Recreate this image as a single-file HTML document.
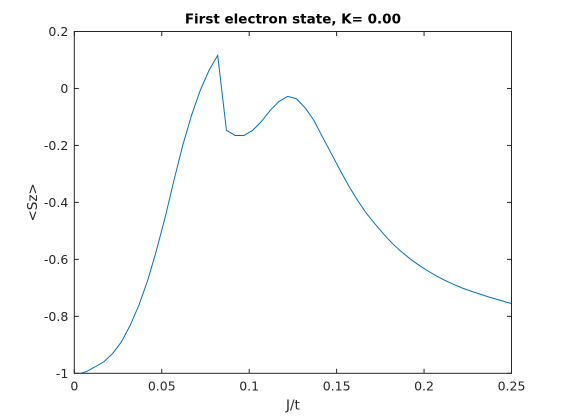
<!DOCTYPE html>
<html><head><meta charset="utf-8"><style>
body{margin:0;background:#fff;}
svg{display:block;font-family:"DejaVu Sans","Liberation Sans",sans-serif;}
</style></head><body>
<svg id="chart" width="566" height="420" viewBox="0 0 566 420">
<rect x="0" y="0" width="566" height="420" fill="#ffffff"/>
<g id="plot"></g>
</svg>
<script>
const xVals=[0.002,0.007,0.012,0.017,0.022,0.027,0.032,0.037,0.042,0.047,0.052,0.057,0.062,0.067,0.072,0.077,0.082,0.087,0.092,0.097,0.102,0.107,0.112,0.117,0.122,0.127,0.132,0.137,0.142,0.147,0.152,0.157,0.162,0.167,0.172,0.177,0.182,0.187,0.192,0.197,0.202,0.207,0.212,0.217,0.222,0.227,0.232,0.237,0.242,0.247,0.25];
const szVals=[-1.003,-0.994,-0.977,-0.959,-0.93,-0.889,-0.831,-0.76,-0.673,-0.568,-0.451,-0.322,-0.2,-0.095,-0.007,0.063,0.116,-0.147,-0.165,-0.165,-0.147,-0.116,-0.077,-0.046,-0.028,-0.036,-0.068,-0.112,-0.171,-0.229,-0.287,-0.343,-0.393,-0.438,-0.476,-0.512,-0.545,-0.573,-0.598,-0.620,-0.640,-0.658,-0.674,-0.688,-0.701,-0.712,-0.722,-0.732,-0.741,-0.750,-0.755];
const xTicks=[0,0.05,0.1,0.15,0.2,0.25];
const xTickLabels=["0","0.05","0.1","0.15","0.2","0.25"];
const yTicks=[0.2,0,-0.2,-0.4,-0.6,-0.8,-1];
const yTickLabels=["0.2","0","-0.2","-0.4","-0.6","-0.8","-1"];

const L=74.3,R=511.5,T=31.5,B=373.3;
const xMin=0,xMax=0.25,yMin=-1,yMax=0.2;
function sx(v){return L+(v-xMin)/(xMax-xMin)*(R-L);}
function sy(v){return B-(v-yMin)/(yMax-yMin)*(B-T);}
const NS="http://www.w3.org/2000/svg";
const g=document.getElementById('plot');
function mk(tag,attrs,parent){const e=document.createElementNS(NS,tag);for(const k in attrs)e.setAttribute(k,attrs[k]);(parent||g).appendChild(e);return e;}

const bg=mk('rect',{x:L,y:T,width:R-L,height:B-T,fill:'#fff'});



const defs=mk('defs',{});
const cp=mk('clipPath',{id:'clip'},defs);
mk('rect',{x:L,y:T,width:R-L,height:B-T},cp);

const pts=xVals.map((x,i)=>sx(x).toFixed(2)+','+sy(szVals[i]).toFixed(2)).join(' ');
const line=mk('polyline',{points:pts,fill:'none',stroke:'#0072bd',"stroke-width":1,"clip-path":'url(#clip)'});



const box=mk('rect',{x:L,y:T,width:R-L,height:B-T,fill:'none',stroke:'#262626',"stroke-width":1});



xTicks.forEach((t,i)=>{
  const x=sx(t);
  const t1=mk('line',{x1:x,x2:x,y1:B,y2:B-4.5,stroke:'#262626'});
  
  
  const t2=mk('line',{x1:x,x2:x,y1:T,y2:T+4.5,stroke:'#262626'});
  
  
  const lb=mk('text',{x:x,y:B+17,"text-anchor":'middle',"font-size":12.5,fill:'#262626'});
  lb.textContent=xTickLabels[i];
  
  
});
yTicks.forEach((t,i)=>{
  const y=sy(t);
  const t1=mk('line',{x1:L,x2:L+4.5,y1:y,y2:y,stroke:'#262626'});
  
  
  const t2=mk('line',{x1:R,x2:R-4.5,y1:y,y2:y,stroke:'#262626'});
  
  
  const lb=mk('text',{x:L-6,y:y+4.5,"text-anchor":'end',"font-size":12.5,fill:'#262626'});
  lb.textContent=yTickLabels[i];
  
  
});

const title=mk('text',{x:(L+R)/2,y:T-8,"text-anchor":'middle',"font-size":13.5,"font-weight":'bold',fill:'#000'});
title.textContent='First electron state, K= 0.00';



const xl=mk('text',{x:(L+R)/2,y:B+36,"text-anchor":'middle',"font-size":13.5,fill:'#262626'});
xl.textContent='J/t';



const yl=mk('text',{x:0,y:0,"text-anchor":'middle',"font-size":13.5,fill:'#262626',transform:'translate(37,'+((T+B)/2)+') rotate(-90)'});
yl.textContent='<Sz>';


</script>
</body></html>
